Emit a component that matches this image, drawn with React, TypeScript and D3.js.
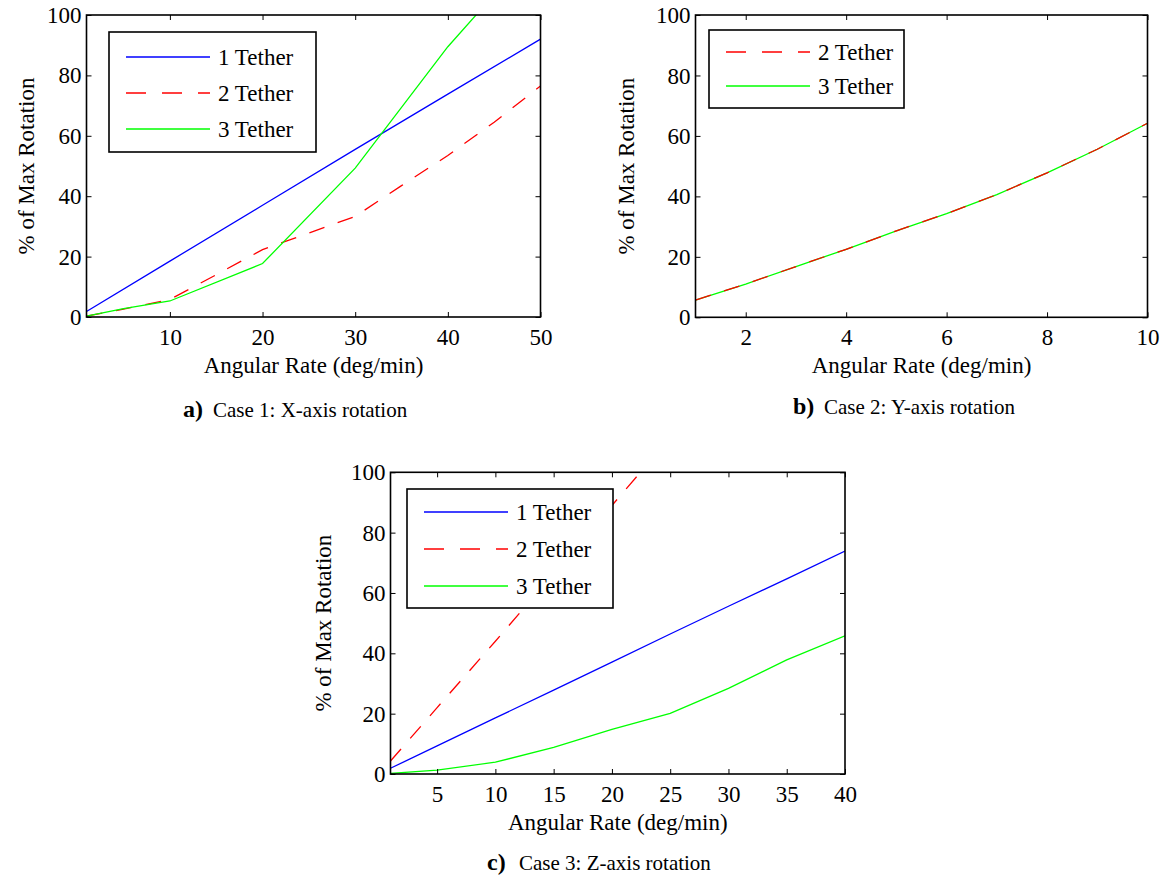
import React, { useEffect, useRef } from 'react';
import * as d3 from 'd3';

// a) Case 1: X-axis rotation
const rateA1 = [1, 10, 20, 30, 40, 50];
const oneTetherA = [1.8, 18.5, 37, 55.5, 73.8, 92];
const rateA2 = [1, 5, 10, 15, 20, 25, 30, 35, 40, 45, 50];
const twoTetherA = [0.3, 2.6, 5.8, 14, 22.3, 27.8, 33.3, 43.5, 53.5, 64.5, 76.5];
const rateA3 = [1, 5, 10, 20, 30, 40, 50];
const threeTetherA = [0.3, 2.8, 5.3, 17.7, 49.3, 89.5, 124];

// b) Case 2: Y-axis rotation (both curves lie on top of each other)
const rateB = [1, 2, 3, 4, 5, 6, 7, 8, 9, 10];
const twoTetherB = [5.7, 11.0, 16.8, 22.5, 28.6, 34.3, 40.6, 47.8, 55.6, 64.2];
const threeTetherB = [5.7, 11.0, 16.8, 22.5, 28.6, 34.3, 40.6, 47.8, 55.6, 64.2];

// c) Case 3: Z-axis rotation
const rateC = [1, 5, 10, 15, 20, 25, 30, 35, 40];
const oneTetherC = [1.9, 9.3, 18.6, 27.8, 37.1, 46.4, 55.6, 64.7, 73.9];
const twoTetherC = [4.3, 22, 44, 66.5, 89, 111.5, 134, 156.5, 179];
const threeTetherC = [0.2, 1.3, 3.9, 8.8, 14.8, 20.1, 28.4, 37.8, 45.8];

const xTicksA = [10, 20, 30, 40, 50];
const xTicksB = [2, 4, 6, 8, 10];
const xTicksC = [5, 10, 15, 20, 25, 30, 35, 40];
const yTicks = [0, 20, 40, 60, 80, 100];

const xLabel = 'Angular Rate (deg/min)';
const yLabel = '% of Max Rotation';

const FONT = "'Liberation Serif', 'Times New Roman', serif";

const styles = {
  '1 Tether': { color: '#0000ff', dash: null },
  '2 Tether': { color: '#ff0000', dash: '16,14' },
  '3 Tether': { color: '#00ff00', dash: null },
};

// layout of the three panels (pixel boxes), data comes from the arrays above
const panels = [
  {
    id: 'a', left: 86.5, right: 540.5, top: 15, bottom: 317,
    xDomain: [1, 50], xTicks: xTicksA, yLabelX: 34,
    series: [
      { name: '1 Tether', x: rateA1, y: oneTetherA },
      { name: '2 Tether', x: rateA2, y: twoTetherA },
      { name: '3 Tether', x: rateA3, y: threeTetherA },
    ],
    drawOrder: ['1 Tether', '2 Tether', '3 Tether'],
    legend: { x: 109, y: 32, w: 207, h: 120, first: 25, gap: 36 },
    caption: { letter: 'a)', text: 'Case 1: X-axis rotation', lx: 183, tx: 213, y: 417 },
  },
  {
    id: 'b', left: 695.5, right: 1147.5, top: 15, bottom: 317.3,
    xDomain: [1, 10], xTicks: xTicksB, yLabelX: 634,
    series: [
      { name: '2 Tether', x: rateB, y: twoTetherB },
      { name: '3 Tether', x: rateB, y: threeTetherB },
    ],
    drawOrder: ['3 Tether', '2 Tether'],
    legend: { x: 709, y: 30, w: 195, h: 78, first: 22, gap: 34 },
    caption: { letter: 'b)', text: 'Case 2: Y-axis rotation', lx: 793, tx: 824, y: 414 },
  },
  {
    id: 'c', left: 390.5, right: 845, top: 472.3, bottom: 774,
    xDomain: [1, 40], xTicks: xTicksC, yLabelX: 331,
    series: [
      { name: '1 Tether', x: rateC, y: oneTetherC },
      { name: '2 Tether', x: rateC, y: twoTetherC },
      { name: '3 Tether', x: rateC, y: threeTetherC },
    ],
    drawOrder: ['1 Tether', '2 Tether', '3 Tether'],
    legend: { x: 407, y: 489, w: 206, h: 119, first: 23, gap: 37 },
    caption: { letter: 'c)', text: 'Case 3: Z-axis rotation', lx: 487, tx: 519, y: 870 },
  },
];

function drawPanel(g, p) {
  const x = d3.scaleLinear().domain(p.xDomain).range([p.left, p.right]);
  const y = d3.scaleLinear().domain([0, 100]).range([p.bottom, p.top]);
  const clipId = 'clip-' + p.id;

  g.append('clipPath').attr('id', clipId)
    .append('rect')
    .attr('x', p.left).attr('y', p.top)
    .attr('width', p.right - p.left).attr('height', p.bottom - p.top);

  g.append('rect')
    .attr('x', p.left).attr('y', p.top)
    .attr('width', p.right - p.left).attr('height', p.bottom - p.top)
    .attr('fill', '#fff');

  const line = d3.line().x(d => x(d[0])).y(d => y(d[1]));

  p.drawOrder.forEach(name => {
    const s = p.series.find(d => d.name === name);
    const st = styles[name];
    g.append('path')
      .datum(d3.zip(s.x, s.y))
      .attr('d', line)
      .attr('fill', 'none')
      .attr('stroke', st.color)
      .attr('stroke-width', 1.3)
      .attr('stroke-dasharray', st.dash)
      .attr('clip-path', `url(#${clipId})`);
  });

  // ticks pointing inwards on all four sides, like matlab's box
  const tidy = sel => {
    sel.select('.domain').remove();
    sel.selectAll('line').attr('stroke', '#000').attr('stroke-width', 1);
    sel.selectAll('text')
      .attr('font-family', FONT).attr('font-size', 23).attr('fill', '#000');
  };

  g.append('g').attr('transform', `translate(0,${p.bottom})`)
    .call(d3.axisBottom(x).tickValues(p.xTicks).tickSizeInner(-5).tickSizeOuter(0))
    .call(tidy)
    .call(s => s.selectAll('text').attr('y', 28).attr('dy', null));
  g.append('g').attr('transform', `translate(0,${p.top})`)
    .call(d3.axisTop(x).tickValues(p.xTicks).tickSizeInner(-5).tickSizeOuter(0).tickFormat(() => ''))
    .call(tidy);
  g.append('g').attr('transform', `translate(${p.left},0)`)
    .call(d3.axisLeft(y).tickValues(yTicks).tickSizeInner(-5).tickSizeOuter(0).tickPadding(5))
    .call(tidy)
    .call(s => s.selectAll('text').attr('dy', '0.33em'));
  g.append('g').attr('transform', `translate(${p.right},0)`)
    .call(d3.axisRight(y).tickValues(yTicks).tickSizeInner(-5).tickSizeOuter(0).tickFormat(() => ''))
    .call(tidy);

  g.append('rect')
    .attr('x', p.left).attr('y', p.top)
    .attr('width', p.right - p.left).attr('height', p.bottom - p.top)
    .attr('fill', 'none').attr('stroke', '#000').attr('stroke-width', 1.6);

  // axis titles
  g.append('text')
    .attr('x', (p.left + p.right) / 2).attr('y', p.bottom + 56)
    .attr('text-anchor', 'middle')
    .attr('font-family', FONT).attr('font-size', 23)
    .text(xLabel);
  g.append('text')
    .attr('transform', `translate(${p.yLabelX},${(p.top + p.bottom) / 2}) rotate(-90)`)
    .attr('text-anchor', 'middle')
    .attr('font-family', FONT).attr('font-size', 23)
    .text(yLabel);

  // legend
  const L = p.legend;
  const lg = g.append('g');
  lg.append('rect')
    .attr('x', L.x).attr('y', L.y).attr('width', L.w).attr('height', L.h)
    .attr('fill', '#fff').attr('stroke', '#000').attr('stroke-width', 1.6);
  p.series.forEach((s, i) => {
    const st = styles[s.name];
    const ry = L.y + L.first + i * L.gap;
    lg.append('line')
      .attr('x1', L.x + 17).attr('x2', L.x + 101).attr('y1', ry).attr('y2', ry)
      .attr('stroke', st.color).attr('stroke-width', 1.3)
      .attr('stroke-dasharray', st.dash ? '20,16' : null);
    lg.append('text')
      .attr('x', L.x + 109).attr('y', ry + 7.6)
      .attr('font-family', FONT).attr('font-size', 23)
      .text(s.name);
  });

  // caption under the panel
  const C = p.caption;
  g.append('text')
    .attr('x', C.lx).attr('y', C.y)
    .attr('font-family', FONT).attr('font-size', 24).attr('font-weight', 'bold')
    .text(C.letter);
  g.append('text')
    .attr('x', C.tx).attr('y', C.y)
    .attr('font-family', FONT).attr('font-size', 21)
    .text(C.text);
}

export default function App() {
  const ref = useRef(null);

  useEffect(() => {
    const svg = d3.select(ref.current);
    svg.selectAll('*').remove();
    panels.forEach(p => drawPanel(svg.append('g'), p));
  }, []);

  return (
    <svg
      ref={ref}
      width={1165}
      height={878}
      style={{ position: 'absolute', left: 0, top: 0, background: '#fff' }}
    />
  );
}
